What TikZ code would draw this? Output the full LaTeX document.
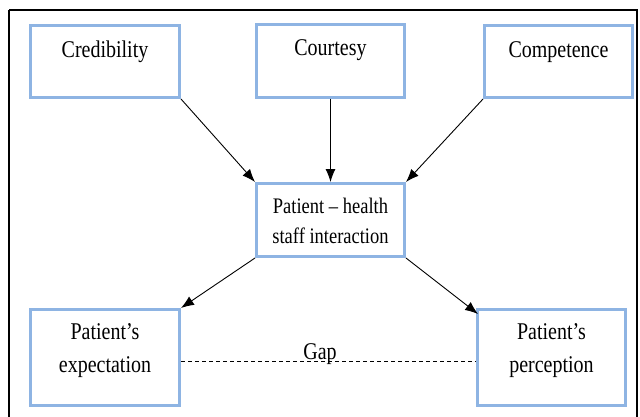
\documentclass[tikz,border=0pt]{standalone}
\usepackage{fontspec}
\setmainfont{Liberation Serif}
\newfontfamily\tnr{Liberation Serif}
\usetikzlibrary{arrows.meta}
\definecolor{boxblue}{RGB}{142,180,227}
\newcommand{\vs}[1]{\scalebox{1}[1.2]{#1}}
\tikzset{
  box/.style={draw=boxblue, line width=3pt, fill=white, inner sep=0pt},
  lbl/.style={inner sep=0pt, align=center, font=\tnr\fontsize{20}{33}\selectfont},
  arr/.style={-{Latex[length=13pt,width=10pt]}, line width=0.9pt, black},
}
\begin{document}
\begin{tikzpicture}[x=1pt,y=-1pt]
\useasboundingbox (0,0) rectangle (640,416);
\begin{scope}
\clip (0,0) rectangle (640,416);
\draw[line width=2.5pt] (9,10) -- (637,10) -- (637,430);
\draw[line width=2.5pt] (9,10) -- (9,430);
\end{scope}
% boxes
\node[box, minimum width=149pt, minimum height=72pt] (cred) at (105,61.5) {};
\node[box, minimum width=148pt, minimum height=73pt] (cour) at (330.5,60.5) {};
\node[box, minimum width=148pt, minimum height=72pt] (comp) at (558.5,61.5) {};
\node[box, minimum width=148pt, minimum height=73pt] (inter) at (330.5,220) {};
\node[box, minimum width=149pt, minimum height=96pt] (expe) at (105,357.5) {};
\node[box, minimum width=148pt, minimum height=96pt] (perc) at (551.5,357.5) {};
% texts
\node[lbl, anchor=base] (credt) at (105,57) {\vs{Credibility}};
\node[lbl, anchor=base] (court) at (330.5,55) {\vs{Courtesy}};
\node[lbl, anchor=base] (compt) at (558.5,57) {\vs{Competence}};
\node[lbl, font=\tnr\fontsize{18.5}{30}\selectfont] (intert) at (330.5,220.5) {\vs{Patient – health}\\\vs{staff interaction}};
\node[lbl] (expet) at (105,350.5) {\vs{Patient’s}\\\vs{expectation}};
\node[lbl] (perct) at (551.5,351) {\vs{Patient’s}\\\vs{perception}};
% arrows
\draw[arr] (cred.south east) -- (inter.north west);
\draw[arr] (cour.south) -- (inter.north);
\draw[arr] (comp.south west) -- (inter.north east);
\draw[arr] (inter.south west) -- (expe.north east);
\draw[arr] (inter.south east) -- ([xshift=2pt,yshift=-6pt]perc.north west);
% gap
\draw[line width=0.9pt, dash pattern=on 4pt off 3pt] ([yshift=-3.5pt]expe.east) -- ([yshift=-3.5pt]perc.west);
\node[lbl, anchor=base] (gap) at (320,359) {\vs{Gap}};
\end{tikzpicture}
\end{document}
